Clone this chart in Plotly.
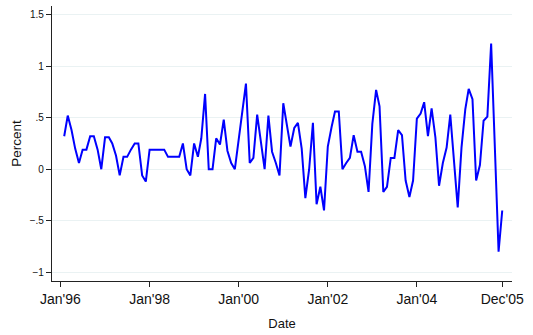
import pandas as pd
import plotly.graph_objects as go

# Monthly percent change, Feb 1996 - Dec 2005
start_month = "1996-02-01"
pct_change = [
    0.32, 0.52, 0.38, 0.20, 0.06, 0.19, 0.19, 0.32, 0.32, 0.19, 0.00,          # 1996
    0.31, 0.31, 0.25, 0.13, -0.06, 0.12, 0.12, 0.19, 0.25, 0.25, -0.06, -0.12,  # 1997
    0.19, 0.19, 0.19, 0.19, 0.19, 0.12, 0.12, 0.12, 0.12, 0.25, 0.00, -0.06,   # 1998
    0.25, 0.12, 0.30, 0.73, 0.00, 0.00, 0.30, 0.24, 0.48, 0.18, 0.06, 0.00,    # 1999
    0.28, 0.55, 0.83, 0.06, 0.11, 0.53, 0.25, 0.00, 0.52, 0.17, 0.06, -0.06,   # 2000
    0.64, 0.42, 0.22, 0.40, 0.45, 0.20, -0.28, 0.00, 0.45, -0.34, -0.17, -0.40, # 2001
    0.22, 0.41, 0.56, 0.56, 0.00, 0.06, 0.11, 0.33, 0.17, 0.17, 0.03, -0.22,   # 2002
    0.44, 0.77, 0.61, -0.22, -0.17, 0.11, 0.11, 0.38, 0.33, -0.11, -0.27, -0.11, # 2003
    0.49, 0.54, 0.65, 0.32, 0.59, 0.31, -0.16, 0.06, 0.21, 0.53, 0.09, -0.37,  # 2004
    0.21, 0.58, 0.78, 0.68, -0.11, 0.04, 0.47, 0.51, 1.22, 0.20, -0.80, -0.40, # 2005
]
dates = pd.date_range(start_month, periods=len(pct_change), freq="MS")

x_tick_dates = ["1996-01-01", "1998-01-01", "2000-01-01", "2002-01-01", "2004-01-01", "2005-12-01"]
x_tick_text = ["Jan'96", "Jan'98", "Jan'00", "Jan'02", "Jan'04", "Dec'05"]
y_tick_vals = [-1, -0.5, 0, 0.5, 1, 1.5]
y_tick_text = ["\u22121", "\u2212.5", "0", ".5", "1", "1.5"]

font = "Liberation Sans, Arial, Helvetica, sans-serif"
axis_col = "#222222"
grid_col = "#EAF2F3"

fig = go.Figure()
fig.add_trace(go.Scatter(
    x=dates, y=pct_change, mode="lines",
    line=dict(color="#0000FF", width=2),
    showlegend=False,
))

fig.update_layout(
    width=533, height=335, autosize=False,
    margin=dict(l=52, r=21, t=6, b=54),
    paper_bgcolor="white", plot_bgcolor="white",
    font=dict(family=font, color="#111111"),
)

fig.update_xaxes(
    range=["1995-10-24", "2006-02-19"],
    tickmode="array", tickvals=x_tick_dates, ticktext=x_tick_text,
    tickfont=dict(size=14, color="#111111"),
    ticks="outside", ticklen=5, tickwidth=1, tickcolor=axis_col,
    showline=True, linecolor=axis_col, linewidth=1.3,
    showgrid=False, zeroline=False,
    title=dict(text="Date", font=dict(size=13), standoff=12),
)

fig.update_yaxes(
    range=[-1.084, 1.583],
    tickmode="array", tickvals=y_tick_vals, ticktext=y_tick_text,
    tickfont=dict(size=10, color="#111111"),
    ticks="outside", ticklen=5, tickwidth=1, tickcolor=axis_col,
    showline=True, linecolor=axis_col, linewidth=1.3,
    showgrid=True, gridcolor=grid_col, gridwidth=1,
    zeroline=False,
    title=dict(text="Percent", font=dict(size=13.5), standoff=4),
)

fig.write_html("out.html")
